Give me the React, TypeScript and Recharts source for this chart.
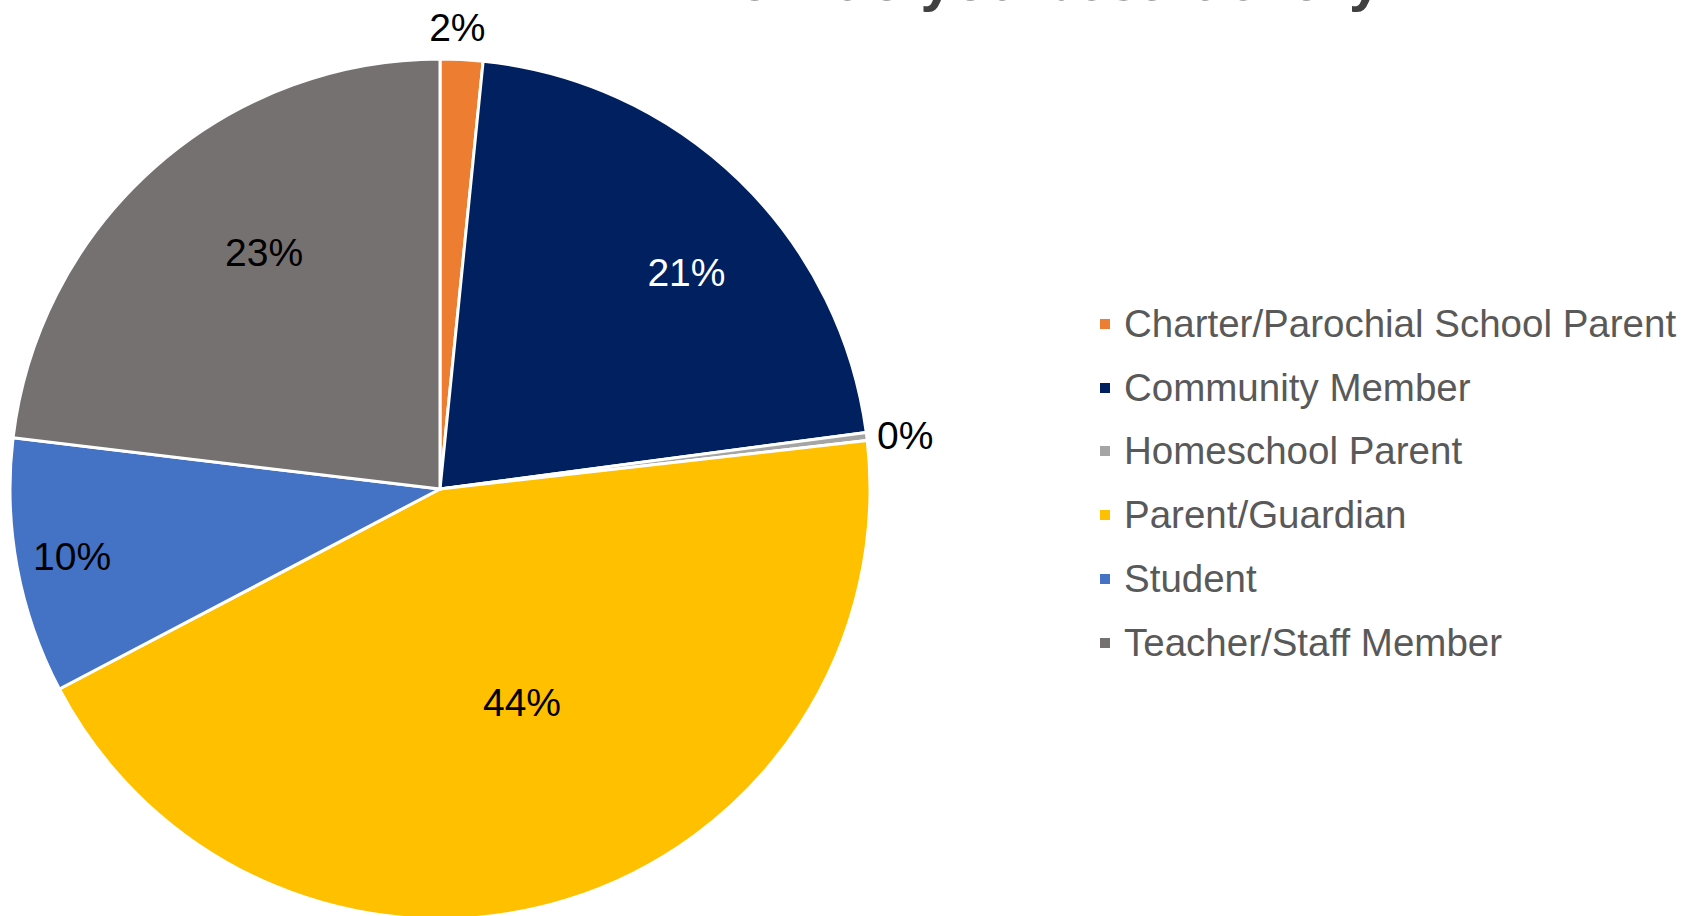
import React from 'react';
import { PieChart, Pie, Cell, Legend } from 'recharts';

// Survey groups, in legend order
const categories = [
  'Charter/Parochial School Parent',
  'Community Member',
  'Homeschool Parent',
  'Parent/Guardian',
  'Student',
  'Teacher/Staff Member',
];

// Share of respondents (%)
const shares = [1.6, 21.3, 0.3, 44.1, 9.6, 23.1];

// Labels as printed on the chart
const percentLabels = ['2%', '21%', '0%', '44%', '10%', '23%'];

const colors = ['#ED7D31', '#002060', '#A5A5A5', '#FFC000', '#4472C4', '#767171'];

// where each label sits, as a fraction of the radius (Excel "best fit"),
// plus a small nudge in px
const labelRadius = [1.08, 0.76, 1.09, 0.53, 0.87, 0.69];
const labelNudgeX = [-6, 19, 0, 15, 0, 21];
const labelNudgeY = [2, 18, 4, -4, 0, -15];
const labelColors = ['#000000', '#FFFFFF', '#000000', '#000000', '#000000', '#000000'];

const TITLE = 'How do you best identify?';

const RADIAN = Math.PI / 180;

const renderLabel = (props: any) => {
  const { cx, cy, midAngle, outerRadius, index } = props;
  const r = outerRadius * labelRadius[index];
  const x = cx + r * Math.cos(-midAngle * RADIAN) + labelNudgeX[index];
  const y = cy + r * Math.sin(-midAngle * RADIAN) + labelNudgeY[index];
  return (
    <text
      x={x}
      y={y}
      fill={labelColors[index]}
      textAnchor="middle"
      dominantBaseline="central"
      fontFamily="'Liberation Sans', Arial, sans-serif"
      fontSize={39}
    >
      {percentLabels[index]}
    </text>
  );
};

const LegendList = () => (
  <div style={{ fontFamily: "'Liberation Sans', Arial, sans-serif" }}>
    {categories.map((name, i) => (
      <div
        key={name}
        style={{
          display: 'flex',
          alignItems: 'center',
          height: 63.8,
          fontSize: 38.5,
          color: '#595959',
          whiteSpace: 'nowrap',
        }}
      >
        <span
          style={{
            width: 10,
            height: 10,
            backgroundColor: colors[i],
            marginRight: 14,
            display: 'inline-block',
          }}
        />
        {name}
      </div>
    ))}
  </div>
);

const App: React.FC = () => {
  const data = categories.map((name, i) => ({ name, value: shares[i] }));

  return (
    <div
      style={{
        position: 'absolute',
        left: 0,
        top: 0,
        width: 1698,
        height: 916,
        overflow: 'hidden',
        background: '#ffffff',
      }}
    >
      {/* title sits mostly above the frame, only the descenders show */}
      <div
        style={{
          position: 'absolute',
          left: 695,
          top: -49,
          fontFamily: "'Liberation Sans', Arial, sans-serif",
          fontWeight: 700,
          fontSize: 58,
          lineHeight: '58px',
          color: '#404040',
          whiteSpace: 'nowrap',
        }}
      >
        {TITLE}
      </div>
      <PieChart width={1698} height={916}>
        <Pie
          data={data}
          dataKey="value"
          nameKey="name"
          cx={435}
          cy={484}
          outerRadius={430}
          startAngle={90}
          endAngle={-270}
          stroke="#ffffff"
          strokeWidth={3}
          label={renderLabel}
          labelLine={false}
          isAnimationActive={false}
        >
          {data.map((d, i) => (
            <Cell key={d.name} fill={colors[i]} />
          ))}
        </Pie>
        <Legend
          content={<LegendList />}
          wrapperStyle={{ position: 'absolute', left: 1100, top: 292, width: 600 }}
        />
      </PieChart>
    </div>
  );
};

export default App;
